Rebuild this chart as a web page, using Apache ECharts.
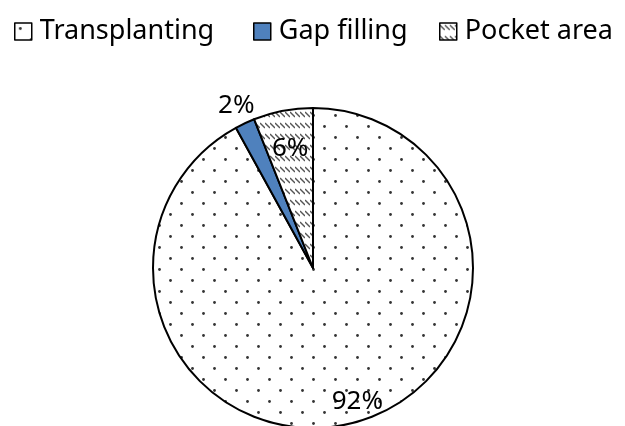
<!DOCTYPE html>
<html lang="en" style="height: 100%">
<head>
  <meta charset="utf-8">
</head>
<body style="height: 100%; margin: 0; background-color:#ffffff;">
  <div id="container" style="height: 100%"></div>

<script src="https://cdn.jsdelivr.net/npm/echarts@6/dist/echarts.min.js"></script>

<script>
  var categories = ['Transplanting', 'Gap filling', 'Pocket area'];
  var values = [92, 2, 6];
  var labels = ['92%', '2%', '6%'];

  var dom = document.getElementById('container');
  var myChart = echarts.init(dom);

  // fill patterns
  function dotTile() {
    var c = document.createElement('canvas');
    c.width = 22; c.height = 22;
    var ctx = c.getContext('2d');
    ctx.fillStyle = '#fff';
    ctx.fillRect(0, 0, 22, 22);
    ctx.fillStyle = '#333';
    ctx.beginPath(); ctx.arc(5.5, 5.5, 1.4, 0, Math.PI * 2); ctx.fill();
    ctx.beginPath(); ctx.arc(16.5, 16.5, 1.4, 0, Math.PI * 2); ctx.fill();
    return c;
  }
  function hatchTile() {
    var c = document.createElement('canvas');
    c.width = 5; c.height = 11;
    var ctx = c.getContext('2d');
    ctx.fillStyle = '#fff';
    ctx.fillRect(0, 0, 5, 11);
    ctx.strokeStyle = '#555';
    ctx.lineWidth = 1.4;
    ctx.beginPath(); ctx.moveTo(0, 2); ctx.lineTo(5, 7); ctx.stroke();
    return c;
  }

  var fills = [
    { image: dotTile(), repeat: 'repeat' },
    '#4f81bd',
    { image: hatchTile(), repeat: 'repeat' }
  ];
  var labelDist = [138, 180, 122];
  var labelShift = [[10, 0], [0, 0], [0, 0]];
  var cx = 313, cy = 268, R = 160;
  var legendLeft = [9, 248, 434];

  var legends = categories.map(function (name, i) {
    return {
      top: 13,
      left: legendLeft[i],
      itemWidth: 17,
      itemHeight: 17,
      icon: 'rect',
      itemStyle: { borderColor: '#000', borderWidth: 1.5 },
      textStyle: { fontFamily: 'Noto Sans', fontSize: 27, color: '#000', padding: [0, 0, 0, 3] },
      data: [name]
    };
  });

  var option = {
    animation: false,
    legend: legends,
    series: [{
      type: 'pie',
      center: [cx, cy],
      radius: R,
      startAngle: 90,
      clockwise: true,
      itemStyle: { borderColor: '#000', borderWidth: 2 },
      label: {
        position: 'inside',
        fontFamily: 'Noto Sans',
        fontSize: 26,
        color: '#000'
      },
      labelLine: { show: false },
      emphasis: { disabled: true },
      labelLayout: function (params) {
        var r = params.labelRect;
        var mx = r.x + r.width / 2 - cx;
        var my = r.y + r.height / 2 - cy;
        var len = Math.sqrt(mx * mx + my * my) || 1;
        var d = labelDist[params.dataIndex];
        var s = labelShift[params.dataIndex];
        return {
          x: cx + mx / len * d + s[0],
          y: cy + my / len * d + s[1],
          align: 'center',
          verticalAlign: 'middle'
        };
      },
      data: categories.map(function (name, i) {
        return {
          name: name,
          value: values[i],
          label: { formatter: labels[i] },
          itemStyle: { color: fills[i] }
        };
      })
    }]
  };

  myChart.setOption(option);
  window.addEventListener('resize', myChart.resize);
</script>

</body>
</html>
